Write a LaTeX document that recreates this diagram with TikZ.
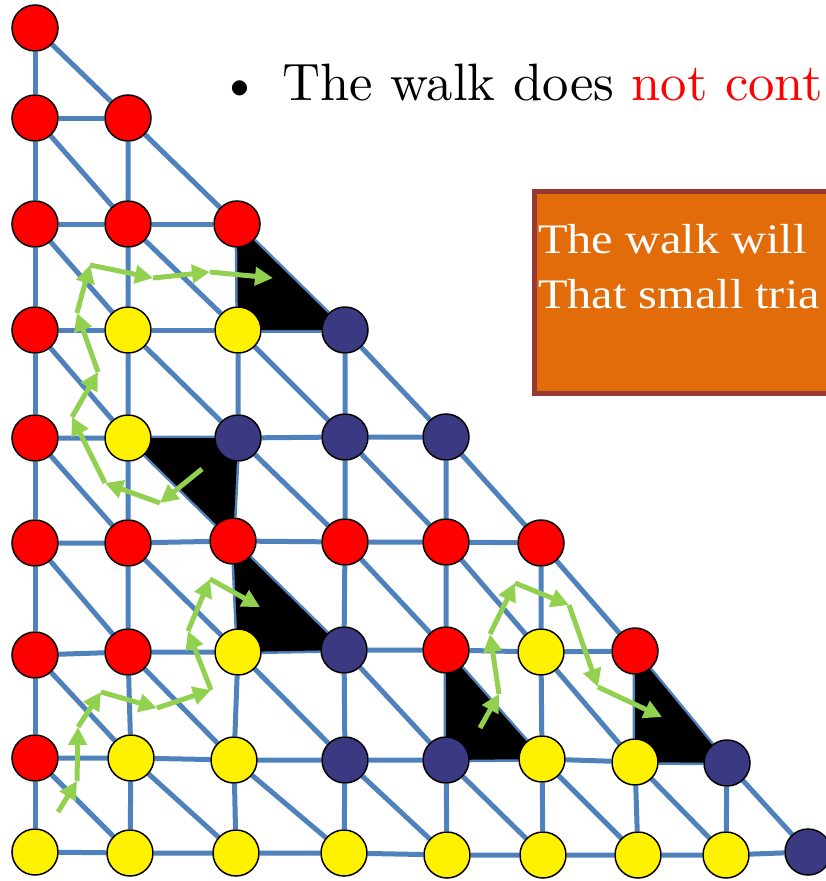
\documentclass[tikz,border=0pt]{standalone}
\usepackage{fontspec}
\newfontfamily\notefont[FakeStretch=1.15]{Liberation Serif}
\newfontfamily\claimfont[Extension=.otf]{lmroman10-regular}
\usetikzlibrary{arrows.meta,backgrounds}
\definecolor{gridblue}{RGB}{79,129,189}
\definecolor{walkgreen}{RGB}{146,208,80}
\definecolor{labnavy}{RGB}{59,57,130}
\definecolor{noteorange}{RGB}{227,108,10}
\definecolor{noteborder}{RGB}{150,56,52}

\begin{document}
\begin{tikzpicture}[x=1pt,y=-1pt,
  vertex/.style={circle,draw=black,line width=1.5pt,minimum size=46pt,inner sep=0pt},
  rnode/.style={vertex,fill=red},
  ynode/.style={vertex,fill=yellow},
  bnode/.style={vertex,fill=labnavy},
  gridline/.style={draw=gridblue,line width=5pt},
  walkarrow/.style={draw=walkgreen,line width=5pt,-{Triangle[length=18pt,width=18pt]}}]
\useasboundingbox (0,0) rectangle (825,881);
% labelled vertices, row by row
\node[rnode] (n00) at (35,28) {};
\node[rnode] (n10) at (35,118) {};
\node[rnode] (n11) at (128,118) {};
\node[rnode] (n20) at (35,224) {};
\node[rnode] (n21) at (128,224) {};
\node[rnode] (n22) at (237,224) {};
\node[rnode] (n30) at (35,330) {};
\node[ynode] (n31) at (128,330) {};
\node[ynode] (n32) at (238,330) {};
\node[bnode] (n33) at (345,330) {};
\node[rnode] (n40) at (35,438) {};
\node[ynode] (n41) at (128,438) {};
\node[bnode] (n42) at (238,438) {};
\node[bnode] (n43) at (345,437) {};
\node[bnode] (n44) at (446,437) {};
\node[rnode] (n50) at (35,543) {};
\node[rnode] (n51) at (128,543) {};
\node[rnode] (n52) at (233,541) {};
\node[rnode] (n53) at (345,542) {};
\node[rnode] (n54) at (446,542) {};
\node[rnode] (n55) at (541,543) {};
\node[rnode] (n60) at (35,655) {};
\node[rnode] (n61) at (128,652) {};
\node[ynode] (n62) at (238,652) {};
\node[bnode] (n63) at (344,650) {};
\node[rnode] (n64) at (446,650) {};
\node[ynode] (n65) at (541,652) {};
\node[rnode] (n66) at (635,651) {};
\node[rnode] (n70) at (35,758) {};
\node[ynode] (n71) at (131,758) {};
\node[ynode] (n72) at (234,760) {};
\node[bnode] (n73) at (345,760) {};
\node[bnode] (n74) at (446,760) {};
\node[ynode] (n75) at (542,759) {};
\node[ynode] (n76) at (635,762) {};
\node[bnode] (n77) at (727,763) {};
\node[ynode] (n80) at (35,852) {};
\node[ynode] (n81) at (130,853) {};
\node[ynode] (n82) at (236,853) {};
\node[ynode] (n83) at (344,853) {};
\node[ynode] (n84) at (447,855) {};
\node[ynode] (n85) at (543,855) {};
\node[ynode] (n86) at (638,855) {};
\node[ynode] (n87) at (726,855) {};
\node[bnode] (n88) at (808,852) {};
\begin{scope}[on background layer]
% rows
\draw[gridline] (n10)--(n11);
\draw[gridline] (n20)--(n21)--(n22);
\draw[gridline] (n30)--(n31)--(n32)--(n33);
\draw[gridline] (n40)--(n41)--(n42)--(n43)--(n44);
\draw[gridline] (n50)--(n51)--(n52)--(n53)--(n54)--(n55);
\draw[gridline] (n60)--(n61)--(n62)--(n63)--(n64)--(n65)--(n66);
\draw[gridline] (n70)--(n71)--(n72)--(n73)--(n74)--(n75)--(n76)--(n77);
\draw[gridline] (n80)--(n81)--(n82)--(n83)--(n84)--(n85)--(n86)--(n87)--(n88);
% columns
\draw[gridline] (n00)--(n10)--(n20)--(n30)--(n40)--(n50)--(n60)--(n70)--(n80);
\draw[gridline] (n11)--(n21)--(n31)--(n41)--(n51)--(n61)--(n71)--(n81);
\draw[gridline] (n22)--(n32)--(n42)--(n52)--(n62)--(n72)--(n82);
\draw[gridline] (n33)--(n43)--(n53)--(n63)--(n73)--(n83);
\draw[gridline] (n44)--(n54)--(n64)--(n74)--(n84);
\draw[gridline] (n55)--(n65)--(n75)--(n85);
\draw[gridline] (n66)--(n76)--(n86);
\draw[gridline] (n77)--(n87);
% diagonals
\draw[gridline] (n00)--(n11)--(n22)--(n33)--(n44)--(n55)--(n66)--(n77)--(n88);
\draw[gridline] (n10)--(n21)--(n32)--(n43)--(n54)--(n65)--(n76)--(n87);
\draw[gridline] (n20)--(n31)--(n42)--(n53)--(n64)--(n75)--(n86);
\draw[gridline] (n30)--(n41)--(n52)--(n63)--(n74)--(n85);
\draw[gridline] (n40)--(n51)--(n62)--(n73)--(n84);
\draw[gridline] (n50)--(n61)--(n72)--(n83);
\draw[gridline] (n60)--(n71)--(n82);
\draw[gridline] (n70)--(n81);
% fully labelled triangles
\fill (n22.center)--(n32.center)--(n33.center)--cycle;
\fill (n41.center)--(n42.center)--(n52.center)--cycle;
\fill (n52.center)--(n62.center)--(n63.center)--cycle;
\fill (n64.center)--(n74.center)--(n75.center)--cycle;
\fill (n66.center)--(n76.center)--(n77.center)--cycle;
\end{scope}
% walk 1
\coordinate (w1a) at (202,469);
\coordinate (w1b) at (160,503);
\coordinate (w1c) at (105,483);
\coordinate (w1d) at (72,417);
\coordinate (w1e) at (98,372);
\coordinate (w1f) at (77,313);
\coordinate (w1g) at (90,265);
\coordinate (w1h) at (153,278);
\coordinate (w1i) at (210,272);
\coordinate (w1j) at (273,278);
\draw[walkarrow] (w1a)--(w1b);
\draw[walkarrow] (w1b)--(w1c);
\draw[walkarrow] (w1c)--(w1d);
\draw[walkarrow] (w1d)--(w1e);
\draw[walkarrow] (w1e)--(w1f);
\draw[walkarrow] (w1f)--(w1g);
\draw[walkarrow] (w1g)--(w1h);
\draw[walkarrow] (w1h)--(w1i);
\draw[walkarrow] (w1i)--(w1j);
% walk 2
\coordinate (w2a) at (58,812);
\coordinate (w2b) at (77,781);
\coordinate (w2c) at (78,727);
\coordinate (w2d) at (101,692);
\coordinate (w2e) at (157,708);
\coordinate (w2f) at (211,690);
\coordinate (w2g) at (188,631);
\coordinate (w2h) at (210,579);
\coordinate (w2i) at (260,607);
\draw[walkarrow] (w2a)--(w2b);
\draw[walkarrow] (w2b)--(w2c);
\draw[walkarrow] (w2c)--(w2d);
\draw[walkarrow] (w2d)--(w2e);
\draw[walkarrow] (w2e)--(w2f);
\draw[walkarrow] (w2f)--(w2g);
\draw[walkarrow] (w2g)--(w2h);
\draw[walkarrow] (w2h)--(w2i);
% walk 3
\coordinate (w3a) at (480,728);
\coordinate (w3b) at (499,694);
\coordinate (w3c) at (490,634);
\coordinate (w3d) at (515,583);
\coordinate (w3e) at (569,605);
\coordinate (w3f) at (598,687);
\coordinate (w3g) at (662,717);
\draw[walkarrow] (w3a)--(w3b);
\draw[walkarrow] (w3b)--(w3c);
\draw[walkarrow] (w3c)--(w3d);
\draw[walkarrow] (w3d)--(w3e);
\draw[walkarrow] (w3e)--(w3f);
\draw[walkarrow] (w3f)--(w3g);
% bullet line
\node[anchor=base,inner sep=0pt,font=\claimfont\fontsize{52.6}{60}\selectfont] (dot) at (240,100) {\textbullet};
\node[anchor=base west,inner sep=0pt,font=\claimfont\fontsize{52.6}{60}\selectfont] (claim) at (282,100) {The walk does \textcolor{red}{not cont}};
% note box
\node[draw=noteborder,fill=noteorange,line width=4.5pt,minimum width=380pt,minimum height=202pt,anchor=north west,inner sep=0pt] (note) at (532,189) {};
\node[anchor=base west,inner sep=0pt,text=white,font=\notefont\fontsize{42}{50}\selectfont] (line1) at (538,253) {The walk will};
\node[anchor=base west,inner sep=0pt,text=white,font=\notefont\fontsize{42}{50}\selectfont] (line2) at (538,308) {That small tria};
\end{tikzpicture}
\end{document}
